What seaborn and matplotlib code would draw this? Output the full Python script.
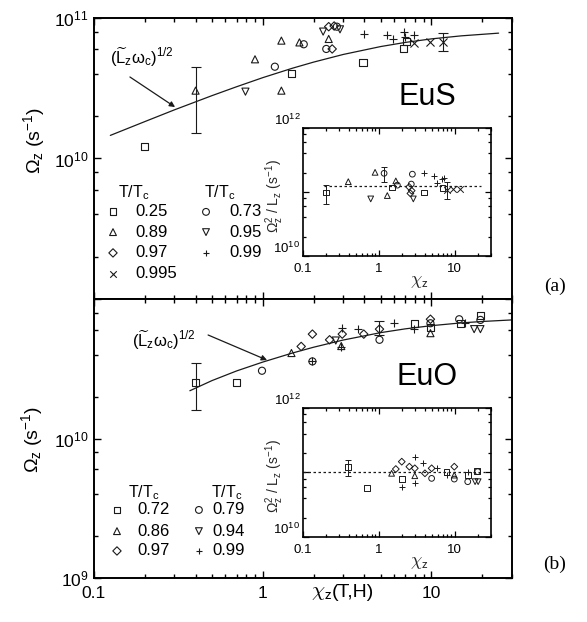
import numpy as np
import pandas as pd
import matplotlib
matplotlib.use("Agg")
import matplotlib.pyplot as plt
import seaborn as sns
from matplotlib.ticker import LogLocator, FixedLocator, FuncFormatter, NullFormatter

# ---------------------------------------------------------------- data
TEMPS_EUS = ["0.25", "0.89", "0.97", "0.995", "0.73", "0.95", "0.99"]
TEMPS_EUO = ["0.72", "0.86", "0.97", "0.79", "0.94", "0.99"]
MARKER = {"0.25": "s", "0.72": "s", "0.89": "^", "0.86": "^", "0.97": "D",
          "0.995": "x", "0.73": "o", "0.79": "o", "0.95": "v", "0.94": "v",
          "0.99": "+"}

# EuS: Omega_z versus chi_z
eus_chi = {
    "0.25": [0.20, 1.49, 3.93, 6.86, 7.10],
    "0.89": [0.40, 0.90, 1.29, 1.29, 1.65, 2.46],
    "0.73": [1.18, 1.75, 2.38, 2.75],
    "0.95": [0.79, 2.28, 2.87],
    "0.97": [2.46, 2.65, 2.58],
    "0.99": [3.97, 5.44, 5.89, 6.86, 6.95, 7.86],
    "0.995": [7.86, 9.86, 11.7],
}
eus_omega = {
    "0.25": [1.21e10, 4.03e10, 4.84e10, 6.02e10, 6.8e10],
    "0.89": [3.04e10, 5.08e10, 6.9e10, 3.04e10, 6.7e10, 7.09e10],
    "0.73": [4.5e10, 6.5e10, 6.02e10, 8.67e10],
    "0.95": [2.99e10, 8.0e10, 8.3e10],
    "0.97": [8.67e10, 8.77e10, 6.02e10],
    "0.99": [7.65e10, 7.6e10, 7.09e10, 7.9e10, 7.3e10, 7.6e10],
    "0.995": [6.6e10, 6.8e10, 6.8e10],
}
eus_err_chi = [0.40, 11.7]
eus_err_val = [3.04e10, 6.8e10]
eus_err_lo = [1.51e10, 5.8e10]
eus_err_hi = [4.5e10, 7.8e10]

# EuS inset: Omega_z^2 / L_z versus chi_z
eus_in_chi = {
    "0.25": [0.20, 1.48, 3.93, 6.9],
    "0.89": [0.395, 0.89, 1.29, 1.67],
    "0.73": [1.17, 1.75, 2.67, 2.76],
    "0.95": [0.78, 2.84],
    "0.97": [2.5, 2.6, 2.7],
    "0.99": [3.96, 5.34, 5.85, 6.7, 7.1],
    "0.995": [7.8, 9.6, 11.7],
}
eus_in_val = {
    "0.25": [9.8e10, 1.18e11, 9.8e10, 1.17e11],
    "0.89": [1.45e11, 2.03e11, 8.8e10, 1.49e11],
    "0.73": [1.96e11, 1.28e11, 1.33e11, 1.9e11],
    "0.95": [7.8e10, 7.8e10],
    "0.97": [1.2e11, 9.5e10, 1.05e11],
    "0.99": [2.0e11, 1.8e11, 1.37e11, 1.6e11, 1.65e11],
    "0.995": [1.07e11, 1.1e11, 1.1e11],
}
eus_in_err_chi = [0.20, 1.17, 7.8]
eus_in_err_val = [9.8e10, 1.96e11, 1.07e11]
eus_in_err_lo = [6.4e10, 1.45e11, 7.7e10]
eus_in_err_hi = [1.28e11, 2.5e11, 1.45e11]
eus_in_level = 1.25e11

# EuO: Omega_z versus chi_z
euo_chi = {
    "0.72": [0.40, 0.70, 7.9, 9.86, 14.8, 19.5],
    "0.79": [0.99, 1.97, 4.92, 9.86, 14.6, 19.5],
    "0.86": [1.48, 2.92, 9.86],
    "0.94": [2.71, 17.9, 19.5],
    "0.97": [1.69, 1.97, 2.49, 2.96, 3.97, 4.92, 9.86],
    "0.99": [1.97, 2.92, 2.96, 3.67, 5.98, 7.9, 15.9],
}
euo_omega = {
    "0.72": [2.52e10, 2.52e10, 6.7e10, 6.24e10, 6.7e10, 7.6e10],
    "0.79": [3.06e10, 3.57e10, 5.1e10, 6.7e10, 7.16e10, 7.08e10],
    "0.86": [4.1e10, 4.6e10, 5.69e10],
    "0.94": [5.04e10, 6.08e10, 6.08e10],
    "0.97": [4.57e10, 5.6e10, 5.1e10, 5.6e10, 5.6e10, 6.08e10, 7.16e10],
    "0.99": [3.57e10, 4.5e10, 6.2e10, 6.08e10, 6.7e10, 6.08e10, 6.7e10],
}
euo_err_chi = [0.40, 4.92]
euo_err_val = [2.52e10, 6.08e10]
euo_err_lo = [1.61e10, 5.5e10]
euo_err_hi = [3.47e10, 7.0e10]

# EuO inset
euo_in_chi = {
    "0.72": [0.395, 0.703, 2.0, 7.8, 14.8, 19.5],
    "0.79": [4.95, 9.84, 14.8, 20.0],
    "0.86": [1.47, 2.97, 9.84],
    "0.94": [18.5, 20.3],
    "0.97": [1.67, 2.0, 2.52, 2.97, 4.04, 4.95, 9.84],
    "0.99": [2.0, 2.97, 2.97, 3.78, 5.87, 7.8, 14.8],
}
euo_in_val = {
    "0.72": [1.23e11, 5.7e10, 7.9e10, 1.03e11, 9.1e10, 1.05e11],
    "0.79": [8.1e10, 7.9e10, 7.2e10, 1.03e11],
    "0.86": [9.7e10, 8.9e10, 9.1e10],
    "0.94": [7.2e10, 7.2e10],
    "0.97": [1.13e11, 1.47e11, 1.23e11, 1.16e11, 9.7e10, 1.16e11, 1.23e11],
    "0.99": [6.0e10, 1.76e11, 6.8e10, 1.39e11, 1.19e11, 9.3e10, 1.0e11],
}
euo_in_err_chi = [0.395]
euo_in_err_val = [1.23e11]
euo_in_err_lo = [8.8e10]
euo_in_err_hi = [1.56e11]
euo_in_level = 1.0e11

# (L_z w_c)^(1/2) curves
eus_curve_chi = [0.125, 0.2, 0.3, 0.5, 0.7, 1.0, 1.5, 2, 3, 5, 7, 10, 15, 25]
eus_curve_omega = [1.46e10, 1.83e10, 2.22e10, 2.80e10, 3.24e10, 3.76e10, 4.39e10,
                   4.85e10, 5.50e10, 6.26e10, 6.70e10, 7.10e10, 7.46e10, 7.80e10]
euo_curve_chi = [0.37, 0.5, 0.7, 1.0, 1.5, 2, 3, 5, 7, 10, 15, 20, 30]
euo_curve_omega = [2.2e10, 2.6e10, 3.05e10, 3.53e10, 4.10e10, 4.51e10, 5.08e10,
                   5.74e10, 6.11e10, 6.44e10, 6.74e10, 6.90e10, 7.08e10]


def frame(chi, val):
    rows = []
    for t in chi:
        for c, v in zip(chi[t], val[t]):
            rows.append({"T": t, "chi": c, "val": v})
    return pd.DataFrame(rows)


# ---------------------------------------------------------------- style
sns.set_theme(style="ticks")
plt.rcParams.update({
    "font.family": ["Liberation Sans", "DejaVu Sans"],
    "mathtext.fontset": "custom",
    "mathtext.rm": "Liberation Sans",
    "mathtext.it": "Liberation Sans",
    "mathtext.bf": "Liberation Sans:bold",
    "axes.edgecolor": "black",
    "xtick.color": "black",
    "ytick.color": "black",
    "text.color": "black",
})

fig = plt.figure(figsize=(5.87, 6.22), dpi=100)
ax_top = fig.add_axes([0.1601, 0.5193, 0.7121, 0.4518])
ax_bot = fig.add_axes([0.1601, 0.0707, 0.7121, 0.4486])
in_top = fig.add_axes([0.5162, 0.5884, 0.3203, 0.2058])
in_bot = fig.add_axes([0.5162, 0.1367, 0.3203, 0.2074])


def pow_label(shown):
    def f(v, pos):
        e = int(round(np.log10(v)))
        return r"$10^{%d}$" % e if e in shown else ""
    return FuncFormatter(f)


def draw_points(ax, df, size, lw):
    for t, sub in df.groupby("T", sort=False):
        m = MARKER[t]
        if m in ("+", "x"):
            sns.scatterplot(data=sub, x="chi", y="val", marker=m,
                            s=size * 1.3, color="k", edgecolor="k",
                            linewidth=lw, ax=ax, legend=False, zorder=3)
        else:
            ms = size * 0.7 if m == "D" else size
            sns.scatterplot(data=sub, x="chi", y="val", marker=m, s=ms,
                            color="k", facecolor="none", edgecolor="k",
                            linewidth=lw, ax=ax, legend=False, zorder=3)


def draw_err(ax, chi, val, lo, hi, cap, lw):
    val = np.array(val)
    yerr = [val - np.array(lo), np.array(hi) - val]
    ax.errorbar(chi, val, yerr=yerr, fmt="none", ecolor="k",
                elinewidth=lw, capsize=cap, capthick=lw, zorder=2)


def style_axes(ax, ylim, ylab, xlabels, big):
    ax.set_xscale("log")
    ax.set_yscale("log")
    ax.set_xlim(0.1, 30)
    ax.set_ylim(*ylim)
    ax.xaxis.set_major_locator(FixedLocator([0.1, 1, 10]))
    ax.xaxis.set_minor_locator(LogLocator(base=10, subs=np.arange(2, 10), numticks=30))
    lo, hi = int(np.log10(ylim[0])), int(np.log10(ylim[1]))
    ax.yaxis.set_major_locator(FixedLocator([10.0 ** e for e in range(lo, hi + 1)]))
    ax.yaxis.set_minor_locator(LogLocator(base=10, subs=[2, 4, 6, 8], numticks=30))
    ax.yaxis.set_major_formatter(pow_label(ylab))
    ax.yaxis.set_minor_formatter(NullFormatter())
    ax.xaxis.set_minor_formatter(NullFormatter())
    if xlabels:
        ax.xaxis.set_major_formatter(FuncFormatter(
            lambda v, p: {0.1: "0.1", 1: "1", 10: "10"}.get(round(v, 3), "")))
    else:
        ax.xaxis.set_major_formatter(NullFormatter())
    ax.tick_params(which="both", direction="in", top=True, right=True,
                   bottom=True, left=True)
    if big:
        ax.tick_params(which="major", length=5, width=1.0, labelsize=12.5, pad=4)
        ax.tick_params(which="minor", length=3, width=1.0)
        ax.tick_params(axis="x", which="major", pad=6)
        for s in ax.spines.values():
            s.set_linewidth(1.4)
    else:
        ax.tick_params(which="major", length=4, width=0.9, labelsize=9.5, pad=2)
        ax.tick_params(which="minor", length=2.2, width=0.9)
        ax.tick_params(axis="x", which="major", pad=5)
        for s in ax.spines.values():
            s.set_linewidth(1.2)
    ax.set_xlabel("")
    ax.set_ylabel("")


# ---------------------------------------------------------------- main panels
panels = [
    (ax_top, eus_chi, eus_omega, eus_curve_chi, eus_curve_omega,
     (eus_err_chi, eus_err_val, eus_err_lo, eus_err_hi), {10, 11}, False, "EuS"),
    (ax_bot, euo_chi, euo_omega, euo_curve_chi, euo_curve_omega,
     (euo_err_chi, euo_err_val, euo_err_lo, euo_err_hi), {9, 10}, True, "EuO"),
]
for ax, cd, vd, cx, cy, err, shown, xl, name in panels:
    sns.lineplot(x=cx, y=cy, color="k", lw=0.9, ax=ax, zorder=2)
    draw_err(ax, *err, cap=3.5, lw=0.8)
    draw_points(ax, frame(cd, vd), size=26, lw=0.8)
    style_axes(ax, (1e9, 1e11), shown, xl, big=True)
    ax.text(0.797, 0.72, name, transform=ax.transAxes, fontsize=22,
            ha="center", va="center")

# annotations for the curve
CURVE_LABEL = r"$(\widetilde{\mathrm{L}}_z\omega_c)^{1/2}$"
ax_top.text(0.038, 0.858, CURVE_LABEL,
            transform=ax_top.transAxes, fontsize=12, ha="left", va="center")
ax_top.annotate("", xy=(0.194, 0.683), xytext=(0.086, 0.79),
                xycoords="axes fraction", textcoords="axes fraction",
                arrowprops=dict(arrowstyle="-|>", color="k", lw=0.9,
                                mutation_scale=8, shrinkA=0, shrinkB=0))
ax_bot.text(0.091, 0.853, CURVE_LABEL,
            transform=ax_bot.transAxes, fontsize=12, ha="left", va="center")
ax_bot.annotate("", xy=(0.414, 0.781), xytext=(0.273, 0.871),
                xycoords="axes fraction", textcoords="axes fraction",
                arrowprops=dict(arrowstyle="-|>", color="k", lw=0.9,
                                mutation_scale=8, shrinkA=0, shrinkB=0))


# legends in two columns of T/Tc values
def legend_block(ax, cols, head_y, rows_y):
    for (mx, tx, hx, temps) in cols:
        ax.text(hx, head_y, r"T/T$_\mathrm{c}$", transform=ax.transAxes,
                fontsize=11.5, ha="left", va="center")
        for t, ry in zip(temps, rows_y):
            m = MARKER[t]
            if m in ("+", "x"):
                ax.scatter([mx], [ry], marker=m, s=22, color="k", lw=0.8,
                           transform=ax.transAxes, clip_on=False)
            else:
                ax.scatter([mx], [ry], marker=m, s=18 if m == "D" else 24,
                           facecolor="none", edgecolor="k", lw=0.8,
                           transform=ax.transAxes, clip_on=False)
            ax.text(tx, ry, t, transform=ax.transAxes, fontsize=12,
                    ha="left", va="center")


legend_block(ax_top,
             [(0.0455, 0.098, 0.057, ["0.25", "0.89", "0.97", "0.995"]),
              (0.268, 0.323, 0.264, ["0.73", "0.95", "0.99"])],
             0.377, [0.310, 0.238, 0.164, 0.089])
legend_block(ax_bot,
             [(0.055, 0.105, 0.082, ["0.72", "0.86", "0.97"]),
              (0.251, 0.284, 0.28, ["0.79", "0.94", "0.99"])],
             0.305, [0.244, 0.168, 0.097])

# ---------------------------------------------------------------- insets
insets = [
    (in_top, eus_in_chi, eus_in_val,
     (eus_in_err_chi, eus_in_err_val, eus_in_err_lo, eus_in_err_hi),
     eus_in_level, (0.19, 22)),
    (in_bot, euo_in_chi, euo_in_val,
     (euo_in_err_chi, euo_in_err_val, euo_in_err_lo, euo_in_err_hi),
     euo_in_level, (0.1, 25)),
]
for ax, cd, vd, err, level, span in insets:
    ax.plot(span, [level, level], color="k", lw=0.9, ls=(0, (2, 2)), zorder=1)
    draw_err(ax, *err, cap=2.5, lw=0.7)
    draw_points(ax, frame(cd, vd), size=17, lw=0.7)
    style_axes(ax, (1e10, 1e12), {10, 12}, True, big=False)
    ax.set_xlabel(r"$\chi_{\mathsf{z}}$", fontsize=13, math_fontfamily="cm",
                  labelpad=0)
    ax.xaxis.set_label_coords(0.62, -0.13)
    ax.set_ylabel(r"$\Omega_z^2$ / L$_z$ (s$^{-1}$)", fontsize=10)
    ax.yaxis.set_label_coords(-0.09, 0.47)
    for lbl in ax.get_yticklabels():
        lbl.set_verticalalignment("bottom")

# ---------------------------------------------------------------- labels
fig.text(0.058, 0.775, r"$\Omega_z$ (s$^{-1}$)", rotation=90, fontsize=14,
         ha="center", va="center")
fig.text(0.055, 0.293, r"$\Omega_z$ (s$^{-1}$)", rotation=90, fontsize=14,
         ha="center", va="center")
fig.text(0.566, 0.048, r"$\chi_{\mathsf{z}}$", fontsize=15, math_fontfamily="cm",
         ha="right", va="center")
fig.text(0.566, 0.048, "(T,H)", fontsize=14, ha="left", va="center")
fig.text(0.945, 0.539, "(a)", fontsize=14, family="Liberation Serif",
         ha="center", va="center")
fig.text(0.945, 0.092, "(b)", fontsize=14, family="Liberation Serif",
         ha="center", va="center")

fig.savefig("out.png", dpi=100, facecolor="white")
